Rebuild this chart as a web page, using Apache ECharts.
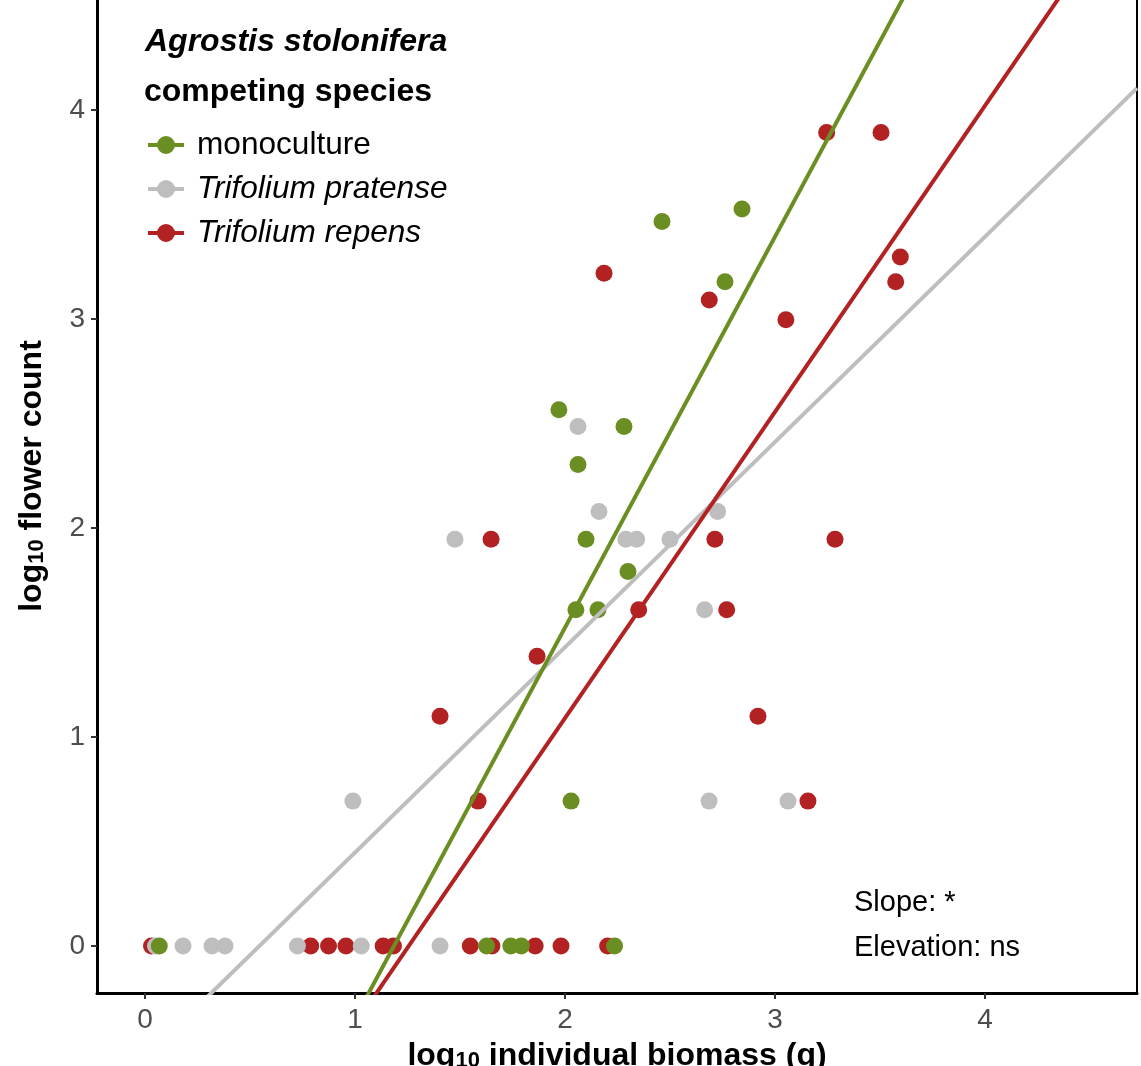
<!DOCTYPE html>
<html>
<head>
<meta charset="utf-8">
<script src="https://cdn.jsdelivr.net/npm/echarts@6/dist/echarts.min.js"></script>
<style>html,body{margin:0;padding:0;background:#fff}#c{width:1141px;height:1066px}</style>
</head>
<body>
<div id="c"></div>
<script>
// ---- data ----
const seriesNames = ['monoculture', 'Trifolium pratense', 'Trifolium repens'];
const seriesColors = ['#6B8E23', '#BEBEBE', '#B22222'];

const monoX = [1.971, 2.062, 2.281, 2.462, 2.843, 2.762, 2.100, 2.300, 2.052, 2.157, 2.029, 0.068, 1.627, 1.742, 1.792, 2.236];
const monoY = [2.565, 2.303, 2.485, 3.466, 3.526, 3.178, 1.946, 1.792, 1.609, 1.609, 0.693, 0, 0, 0, 0, 0];

const pratX = [0.990, 1.476, 2.062, 2.162, 2.290, 2.341, 2.500, 2.727, 2.665, 2.686, 3.062, 0.050, 0.181, 0.319, 0.381, 0.726, 1.030, 1.405];
const pratY = [0.693, 1.946, 2.485, 2.079, 1.946, 1.946, 1.946, 2.079, 1.609, 0.693, 0.693, 0, 0, 0, 0, 0, 0, 0];

const repX = [1.648, 2.714, 2.351, 2.770, 1.867, 1.405, 1.586, 2.919, 3.157, 3.286, 2.186, 3.246, 3.505, 2.687, 3.052, 3.597, 3.575, 0.031, 0.789, 0.874, 0.957, 1.134, 1.183, 1.549, 1.652, 1.858, 1.981, 2.203];
const repY = [1.946, 1.946, 1.609, 1.609, 1.386, 1.099, 0.693, 1.099, 0.693, 1.946, 3.219, 3.892, 3.892, 3.091, 2.996, 3.296, 3.178, 0, 0, 0, 0, 0, 0, 0, 0, 0, 0, 0];

// fitted lines: [intercept, slope]
const monoFit = [-2.217, 1.87];
const pratFit = [-0.535, 0.982];
const repFit = [-1.84, 1.465];

const xTicks = [0, 1, 2, 3, 4];
const yTicks = [0, 1, 2, 3, 4];
const xRange = [-0.2286, 4.724];
const yRange = [-0.225, 4.722];

const annotations = ['Slope: *', 'Elevation: ns'];

// ---- build ----
const FONT = '"Liberation Sans", Arial, Helvetica, sans-serif';
const pts = (xs, ys) => xs.map((x, i) => [x, ys[i]]);
const fitLine = f => [[xRange[0], f[0] + f[1] * xRange[0]], [xRange[1], f[0] + f[1] * xRange[1]]];

const ICON = 'path://M0,7 L36,7 L36,11 L0,11 Z M9,9 A9,9 0 1,1 27,9 A9,9 0 1,1 9,9 Z M44,9 L44,9 Z';

const chart = echarts.init(document.getElementById('c'), null, {renderer: 'canvas'});

const subRich = {
  b: {fontSize: 32, fontWeight: 'bold', fontFamily: FONT, color: '#000', lineHeight: 40, verticalAlign: 'bottom'},
  s: {fontSize: 22, fontWeight: 'bold', fontFamily: FONT, color: '#000', lineHeight: 20, verticalAlign: 'bottom'}
};

const scatterData = [pts(repX, repY), pts(pratX, pratY), pts(monoX, monoY)];
const scatterIdx = [2, 1, 0];

const option = {
  animation: false,
  backgroundColor: '#fff',
  grid: {left: 97, right: 4, top: -41, bottom: 73, containLabel: false, outerBoundsMode: 'none'},
  title: [
    {text: 'Agrostis stolonifera', left: 145, top: 26, padding: 0,
     textStyle: {fontFamily: FONT, fontSize: 32, fontWeight: 'bold', fontStyle: 'italic', color: '#000'}},
    {text: 'competing species', left: 144, top: 76, padding: 0,
     textStyle: {fontFamily: FONT, fontSize: 32, fontWeight: 'bold', color: '#000'}}
  ],
  legend: {
    orient: 'vertical', left: 148, top: 129, padding: 0,
    itemWidth: 44, itemHeight: 18, itemGap: 12,
    selectedMode: false,
    data: seriesNames.map(n => ({name: n, icon: ICON})),
    formatter: n => n === 'monoculture' ? n : '{i|' + n + '}',
    textStyle: {fontFamily: FONT, fontSize: 31.6, color: '#000', lineHeight: 18,
      rich: {i: {fontFamily: FONT, fontSize: 31.6, fontStyle: 'italic', color: '#000', lineHeight: 18}}}
  },
  xAxis: {
    type: 'value', min: xRange[0], max: xRange[1],
    name: '{b|log}{s|10}{b| individual biomass (g)}', nameLocation: 'middle', nameGap: 39,
    nameTextStyle: {rich: subRich},
    axisLine: {show: true, onZero: false, lineStyle: {color: '#000', width: 3}},
    axisTick: {show: true, length: 6, lineStyle: {color: '#333', width: 2}, customValues: xTicks},
    axisLabel: {show: true, margin: 13, fontSize: 28, fontFamily: FONT, color: '#4D4D4D', customValues: xTicks},
    splitLine: {show: false}
  },
  yAxis: [{
    type: 'value', min: yRange[0], max: yRange[1],
    name: '{b|log}{s|10}{b| flower count}', nameLocation: 'middle', nameGap: 49, nameRotate: 90,
    nameTextStyle: {rich: subRich},
    axisLine: {show: true, onZero: false, lineStyle: {color: '#000', width: 3}},
    axisTick: {show: true, length: 6, lineStyle: {color: '#333', width: 2}, customValues: yTicks},
    axisLabel: {show: true, margin: 12, fontSize: 28, fontFamily: FONT, color: '#4D4D4D', customValues: yTicks},
    splitLine: {show: false}
  }, {
    type: 'value', min: yRange[0], max: yRange[1], position: 'right',
    axisLine: {show: true, onZero: false, lineStyle: {color: '#000', width: 2}},
    axisTick: {show: false}, axisLabel: {show: false}, splitLine: {show: false}
  }],
  graphic: [
    {type: 'text', left: 854, top: 888, style: {text: annotations[0], font: '29px ' + FONT, fill: '#000'}},
    {type: 'text', left: 854, top: 933, style: {text: annotations[1], font: '29px ' + FONT, fill: '#000'}}
  ],
  series: [
    ...scatterData.map((d, k) => ({
      type: 'scatter', name: seriesNames[scatterIdx[k]], data: d, symbol: 'circle', symbolSize: 17,
      itemStyle: {color: seriesColors[scatterIdx[k]], opacity: 1}, z: 2 + k, silent: true
    })),
    ...[pratFit, repFit, monoFit].map((f, k) => ({
      type: 'line', name: seriesNames[[1, 2, 0][k]], data: fitLine(f), showSymbol: false, symbol: 'none',
      lineStyle: {color: seriesColors[[1, 2, 0][k]], width: 4}, z: 10 + k, silent: true, clip: true
    }))
  ]
};
chart.setOption(option);
</script>
</body>
</html>
